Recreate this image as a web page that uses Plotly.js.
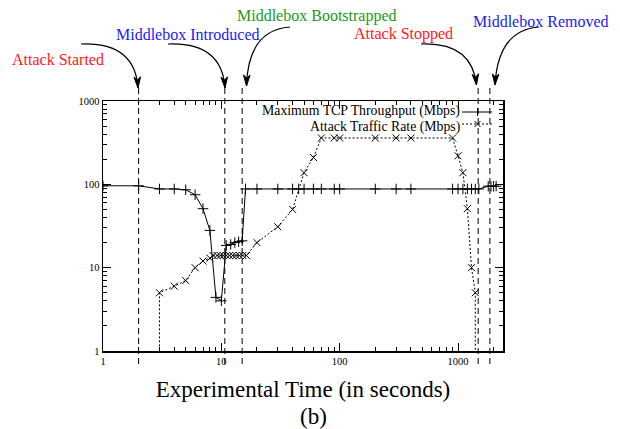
<!DOCTYPE html>
<html>
<head>
<meta charset="utf-8">
<script src="https://cdn.plot.ly/plotly-3.0.1.min.js"></script>
<style>html,body{margin:0;padding:0;background:#fff;}#chart{width:620px;height:429px;}</style>
</head>
<body>
<div id="chart"></div>
<script>
// ---- data ----
const throughputTime = [1, 2, 3, 4, 5, 6, 7, 8, 9, 10, 11, 12, 13, 14, 15, 16, 20, 30, 40, 45, 50, 60, 70, 90, 100, 200, 300, 400, 900, 1000, 1100, 1200, 1300, 1400, 1500, 1800, 1900, 2000, 2100];
const throughputMbps = [96, 96, 88, 88, 86, 75, 51, 28, 4.4, 4.0, 18.5, 19, 20, 20.5, 21, 88, 88, 88, 88, 88, 88, 88, 88, 88, 88, 88, 88, 88, 88, 88, 88, 88, 88, 88, 88, 95, 95, 95, 95];

const attackTime = [3, 3, 4, 5, 6, 7, 8, 8.5, 9.2, 9.8, 10.4, 11, 11.7, 12.5, 13.3, 14.2, 15.2, 16.3, 20, 30, 40, 50, 60, 70, 90, 100, 200, 300, 400, 900, 1000, 1100, 1200, 1300, 1400, 1400];
const attackMbps = [0.1, 5, 6, 7, 10, 12, 13, 14, 14, 14, 14, 14, 14, 14, 14, 14, 14, 14, 20, 31, 50, 138, 210, 360, 360, 360, 360, 360, 360, 360, 220, 138, 51, 10, 5, 0.1];

const eventTimes = [2, 10.7, 15, 1480, 1860];
const eventLabels = ['Attack Started', 'Middlebox Introduced', 'Middlebox Bootstrapped', 'Attack Stopped', 'Middlebox Removed'];

const seriesNames = ['Maximum TCP Throughput (Mbps)', 'Attack Traffic Rate (Mbps)'];
const tickValues = [1, 10, 100, 1000];
const tickLabels = ['1', '10', '100', '1000'];
const xTitle = 'Experimental Time (in seconds)';
const caption = '(b)';

// ---- layout helpers ----
const W = 620, H = 429;
const M = {l: 103, r: 117, t: 101, b: 78};
const PW = W - M.l - M.r, PH = H - M.t - M.b;
const px = x => (x - M.l) / PW;          // pixel -> paper x
const py = y => (H - M.b - y) / PH;      // pixel -> paper y
const SERIF = 'Liberation Serif, Times New Roman, serif';

const eventColors = ['#ff2020', '#2020ff', '#1a9a1a', '#ff2020', '#2020ff'];
// label centre, arrow start, control point, arrow tip (pixels)
const eventStyle = [
  {lx: 58, ly: 59, s: [81, 44], c: [135, 42], e: [138, 88]},
  {lx: 188, ly: 34, s: [168, 44], c: [222, 42], e: [225, 88]},
  {lx: 317, ly: 16, s: [290, 27], c: [248, 30], e: [246.5, 86]},
  {lx: 403, ly: 34, s: [421, 44], c: [472, 42], e: [476.5, 85]},
  {lx: 541, ly: 22, s: [539, 27], c: [498, 30], e: [495, 85]}
];

const minorVals = [];
for (let k = 0; k < 4; k++) for (let d = 2; d <= 9; d++) minorVals.push(d * Math.pow(10, k));

const shapes = [];
const annotations = [];

eventTimes.forEach((t, i) => {
  shapes.push({type: 'line', xref: 'x', yref: 'paper', x0: t, x1: t, y0: py(364), y1: py(88),
    line: {color: '#000', width: 1, dash: '6px,4px'}});
  const st = eventStyle[i];
  const P = p => px(p[0]).toFixed(5) + ',' + py(p[1]).toFixed(5);
  shapes.push({type: 'path', xref: 'paper', yref: 'paper',
    path: 'M' + P(st.s) + ' Q' + P(st.c) + ' ' + P(st.e),
    line: {color: '#000', width: 1.2}});
  // arrow head
  const dx = st.e[0] - st.c[0], dy = st.e[1] - st.c[1];
  const L = Math.hypot(dx, dy), ux = dx / L, uy = dy / L;
  const len = 11, half = 3.3, notch = 8;
  const bx = st.e[0] - ux * len, by = st.e[1] - uy * len;
  const nx = st.e[0] - ux * notch, ny = st.e[1] - uy * notch;
  const p1 = [bx - uy * half, by + ux * half], p2 = [bx + uy * half, by - ux * half];
  shapes.push({type: 'path', xref: 'paper', yref: 'paper',
    path: 'M' + P(st.e) + ' L' + P(p1) + ' L' + P([nx, ny]) + ' L' + P(p2) + ' Z',
    fillcolor: '#000', line: {color: '#000', width: 1}});
  annotations.push({xref: 'paper', yref: 'paper', x: px(st.lx), y: py(st.ly), xanchor: 'center', yanchor: 'middle',
    text: eventLabels[i], showarrow: false, font: {family: SERIF, size: 16, color: eventColors[i]}});
});

// custom legend (text right-aligned, sample on the right, gnuplot style)
const legY = [112, 124];
const legTextY = [110.5, 127];
seriesNames.forEach((n, i) => {
  annotations.push({xref: 'paper', yref: 'paper', x: px(461), y: py(legTextY[i]), xanchor: 'right', yanchor: 'middle',
    text: n, showarrow: false, borderpad: 0, font: {family: SERIF, size: 13.8, color: '#000'}});
});
shapes.push({type: 'line', xref: 'paper', yref: 'paper', x0: px(462), x1: px(492), y0: py(legY[0]), y1: py(legY[0]), line: {color: '#000', width: 1}});
shapes.push({type: 'line', xref: 'paper', yref: 'paper', x0: px(477.5), x1: px(477.5), y0: py(legY[0] - 4), y1: py(legY[0] + 4), line: {color: '#000', width: 1}});
shapes.push({type: 'line', xref: 'paper', yref: 'paper', x0: px(462), x1: px(492), y0: py(legY[1]), y1: py(legY[1]), line: {color: '#000', width: 1, dash: '2px,2px'}});
shapes.push({type: 'line', xref: 'paper', yref: 'paper', x0: px(474.5), x1: px(480.5), y0: py(legY[1] - 3), y1: py(legY[1] + 3), line: {color: '#000', width: 1}});
shapes.push({type: 'line', xref: 'paper', yref: 'paper', x0: px(474.5), x1: px(480.5), y0: py(legY[1] + 3), y1: py(legY[1] - 3), line: {color: '#000', width: 1}});

annotations.push({xref: 'paper', yref: 'paper', x: px(313.5), y: py(416.5), xanchor: 'center', yanchor: 'middle',
  text: caption, showarrow: false, font: {family: SERIF, size: 23, color: '#000'}});

const traces = [
  {x: throughputTime, y: throughputMbps, name: seriesNames[0], type: 'scatter', mode: 'lines+markers',
   line: {color: '#000', width: 1},
   marker: {symbol: 'cross-thin-open', size: 7.5, color: '#000', line: {color: '#000', width: 1}}},
  {x: attackTime, y: attackMbps, name: seriesNames[1], type: 'scatter', mode: 'lines+markers',
   line: {color: '#000', width: 1, dash: '2px,2px'},
   marker: {symbol: 'x-thin-open', size: 7, color: '#000', line: {color: '#000', width: 1}}}
];

const axisCommon = {
  type: 'log', showgrid: false, zeroline: false, showline: true, linecolor: '#000', linewidth: 1.5,
  mirror: 'allticks', ticks: 'inside', ticklen: 8, tickwidth: 1, tickcolor: '#000',
  tickmode: 'array', tickvals: tickValues, ticktext: tickLabels,
  tickfont: {family: SERIF, size: 10.5, color: '#000'},
  minor: {ticks: 'inside', ticklen: 4, tickwidth: 1, tickcolor: '#000', tickmode: 'array', tickvals: minorVals, showgrid: false}
};

const layout = {
  width: W, height: H, margin: M, paper_bgcolor: '#fff', plot_bgcolor: '#fff', showlegend: false,
  xaxis: Object.assign({}, axisCommon, {range: [0, Math.log10(2400)],
    title: {text: xTitle, font: {family: SERIF, size: 23, color: '#000'}, standoff: 15}}),
  yaxis: Object.assign({}, axisCommon, {range: [0, 3]}),
  shapes: shapes, annotations: annotations
};

Plotly.newPlot('chart', traces, layout, {staticPlot: true, displayModeBar: false});
</script>
</body>
</html>
